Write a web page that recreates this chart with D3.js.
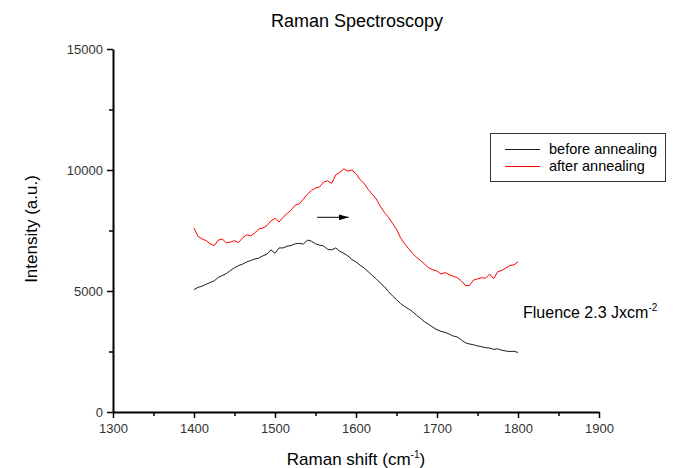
<!DOCTYPE html>
<html>
<head>
<meta charset="utf-8">
<script src="https://cdn.jsdelivr.net/npm/d3@7"></script>
<style>
  html, body { margin: 0; padding: 0; background: #fff; }
  svg { display: block; font-family: Arial, "Liberation Sans", sans-serif; }
</style>
</head>
<body>
<svg id="chart" width="686" height="468"></svg>
<script>
// ---- data ----
const wavenumbers = [
  1400,1405,1410,1415,1420,1425,1430,1435,1440,1445,1450,1455,1460,1465,1470,1475,1480,1485,1490,1495,
  1500,1505,1510,1515,1520,1525,1530,1535,1540,1545,1550,1555,1560,1565,1570,1575,1580,1585,1590,1595,
  1600,1605,1610,1615,1620,1625,1630,1635,1640,1645,1650,1655,1660,1665,1670,1675,1680,1685,1690,1695,
  1700,1705,1710,1715,1720,1725,1730,1735,1740,1745,1750,1755,1760,1765,1770,1775,1780,1785,1790,1795,1800
];
const beforeAnnealing = [
  5060,5150,5200,5280,5350,5420,5560,5640,5720,5850,5960,6050,6110,6200,6260,6320,6360,6450,6520,6700,
  6560,6780,6780,6850,6880,6950,6970,6940,7100,7060,6950,6900,6860,6720,6700,6780,6640,6560,6450,6300,
  6200,6070,5950,5800,5650,5500,5330,5180,4980,4800,4640,4480,4360,4260,4140,3990,3860,3720,3620,3500,
  3400,3330,3290,3220,3140,3100,2980,2860,2810,2780,2730,2700,2660,2640,2590,2610,2550,2520,2500,2510,2460
];
const afterAnnealing = [
  7600,7250,7150,7080,6950,6880,7100,7150,6980,7020,7080,7000,7200,7320,7280,7400,7560,7600,7700,7900,
  8000,7850,8050,8200,8350,8550,8600,8800,9000,9150,9250,9300,9500,9550,9450,9800,9900,10050,9950,10000,
  9850,9600,9450,9200,9000,8800,8500,8250,8050,7800,7550,7200,6950,6750,6550,6380,6250,6100,5950,5880,
  5830,5700,5760,5680,5610,5550,5420,5230,5220,5450,5500,5550,5530,5700,5510,5800,5850,5950,6050,6080,6200
];
const seriesNames = ["before annealing", "after annealing"];
const seriesColors = ["#1a1a1a", "#ff0000"];
const xTicks = [1300, 1400, 1500, 1600, 1700, 1800, 1900];
const xMinorTicks = [1350, 1450, 1550, 1650, 1750, 1850];
const yTicks = [0, 5000, 10000, 15000];
const yMinorTicks = [2500, 7500, 12500];
const arrowFrom = [1552, 8045];
const arrowTo = [1591, 8045];

// ---- layout ----
const svg = d3.select("#chart");
const x = d3.scaleLinear().domain([1300, 1900]).range([113, 599]);
const y = d3.scaleLinear().domain([0, 15000]).range([412, 49]);

const tickColor = "#333";

// Title
svg.append("text").attr("x", 357).attr("y", 27).attr("text-anchor", "middle")
  .attr("font-size", 18).attr("fill", "#000").text("Raman Spectroscopy");

// X axis
const xAxis = svg.append("g").attr("transform", `translate(0,${y(0)})`)
  .call(d3.axisBottom(x).tickValues(xTicks).tickSize(6).tickSizeOuter(0).tickFormat(d3.format("d")));
xAxis.select(".domain").attr("stroke", "#000").attr("stroke-width", 2);
xAxis.selectAll(".tick line").attr("stroke", "#000").attr("stroke-width", 1.5);
xAxis.selectAll(".tick text").attr("font-size", 13).attr("fill", tickColor)
  .attr("font-family", "Arial, 'Liberation Sans', sans-serif").attr("dy", "0.9em");
const xMinor = svg.append("g").attr("transform", `translate(0,${y(0)})`)
  .call(d3.axisBottom(x).tickValues(xMinorTicks).tickSize(4).tickFormat(""));
xMinor.select(".domain").remove();
xMinor.selectAll(".tick line").attr("stroke", "#000").attr("stroke-width", 1.5);

// Y axis
const yAxis = svg.append("g").attr("transform", `translate(${x(1300)},0)`)
  .call(d3.axisLeft(y).tickValues(yTicks).tickSize(6).tickSizeOuter(0).tickFormat(d3.format("d")));
yAxis.select(".domain").attr("stroke", "#000").attr("stroke-width", 2);
yAxis.selectAll(".tick line").attr("stroke", "#000").attr("stroke-width", 1.5);
yAxis.selectAll(".tick text").attr("font-size", 13).attr("fill", tickColor)
  .attr("font-family", "Arial, 'Liberation Sans', sans-serif").attr("x", -10);
const yMinor = svg.append("g").attr("transform", `translate(${x(1300)},0)`)
  .call(d3.axisLeft(y).tickValues(yMinorTicks).tickSize(4).tickFormat(""));
yMinor.select(".domain").remove();
yMinor.selectAll(".tick line").attr("stroke", "#000").attr("stroke-width", 1.5);

// Axis labels
const xl = svg.append("text").attr("x", 356).attr("y", 465).attr("text-anchor", "middle")
  .attr("font-size", 17).attr("fill", "#000");
xl.append("tspan").text("Raman shift (cm");
xl.append("tspan").attr("font-size", 10).attr("dy", -7).text("-1");
xl.append("tspan").attr("dy", 7).text(")");

svg.append("text").attr("transform", "translate(37,229) rotate(-90)").attr("text-anchor", "middle")
  .attr("font-size", 17).attr("fill", "#000").text("Intensity (a.u.)");

// Lines
const seriesData = [beforeAnnealing, afterAnnealing];
const line = d3.line().x((d, i) => x(wavenumbers[i])).y(d => y(d));
seriesData.forEach((vals, k) => {
  svg.append("path").datum(vals).attr("fill", "none")
    .attr("stroke", seriesColors[k]).attr("stroke-width", 1)
    .attr("stroke-linejoin", "round").attr("d", line);
});

// Arrow
const defs = svg.append("defs");
defs.append("marker").attr("id", "arrowhead").attr("viewBox", "0 0 10 6")
  .attr("refX", 10).attr("refY", 3).attr("markerWidth", 10).attr("markerHeight", 6)
  .attr("markerUnits", "userSpaceOnUse").attr("orient", "auto")
  .append("path").attr("d", "M0,0 L10,3 L0,6 Z").attr("fill", "#000");
svg.append("line").attr("x1", x(arrowFrom[0])).attr("y1", y(arrowFrom[1]))
  .attr("x2", x(arrowTo[0])).attr("y2", y(arrowTo[1]))
  .attr("stroke", "#000").attr("stroke-width", 1).attr("marker-end", "url(#arrowhead)");

// Legend
const lg = svg.append("g");
lg.append("rect").attr("x", 490.5).attr("y", 133.5).attr("width", 175).attr("height", 48)
  .attr("fill", "#fff").attr("stroke", "#333").attr("stroke-width", 1);
seriesNames.forEach((name, k) => {
  const yy = 149 + k * 17;
  lg.append("line").attr("x1", 505).attr("x2", 540).attr("y1", yy + 0.5).attr("y2", yy + 0.5)
    .attr("stroke", seriesColors[k]).attr("stroke-width", 1);
  lg.append("text").attr("x", 549).attr("y", yy + 5).attr("font-size", 14.5).attr("fill", "#000").text(name);
});

// Annotation
const fl = svg.append("text").attr("x", 523).attr("y", 318).attr("font-size", 16).attr("fill", "#000");
fl.append("tspan").text("Fluence 2.3 Jxcm");
fl.append("tspan").attr("font-size", 10).attr("dy", -7).text("-2");
</script>
</body>
</html>
